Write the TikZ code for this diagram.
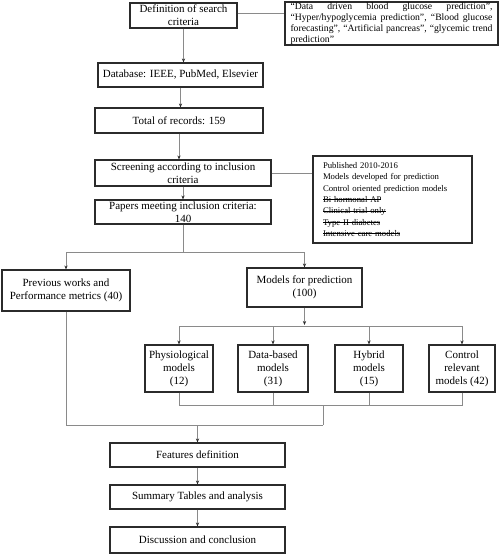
\documentclass[tikz,border=0pt]{standalone}
\usepackage{fontspec}
\setmainfont{Liberation Serif}
\usetikzlibrary{arrows.meta,calc}
\newcommand\mystrike[1]{\setbox0\hbox{#1}\leavevmode\rlap{\rule[0.3em]{\wd0}{0.5pt}}\box0}
\definecolor{boxline}{HTML}{2B2B2B}
\definecolor{conn}{HTML}{8A8A8A}
\begin{document}
\begin{tikzpicture}[x=1pt,y=-1pt,
  box/.style={draw=boxline,line width=1.1pt,rectangle,inner sep=1pt,align=center,
    font=\fontsize{11}{13}\selectfont},
  note/.style={draw=boxline,line width=1.1pt,rectangle,inner xsep=2pt,inner ysep=0pt},
  link/.style={draw=conn,line width=0.8pt},
  arr/.style={link,-{Stealth[length=4pt,width=3.2pt,color=boxline]}}]
\useasboundingbox (0,0) rectangle (500,554);
\fill[white] (0,0) rectangle (500,554);
% nodes
\node[box,minimum width=107pt,minimum height=25pt] (def) at (183.5,15.5) {Definition of search\\criteria};
\node[note,minimum width=213pt,minimum height=43pt,text width=202pt,align=justify,
  font=\fontsize{9.7}{11}\selectfont] (kw) at (391.5,23.5)
  {\hyphenpenalty10000 ``Data driven blood glucose prediction'',\linebreak ``Hyper/hypoglycemia prediction'', ``Blood glucose\linebreak forecasting'', ``Artificial pancreas'', ``glycemic trend\linebreak prediction''};
\node[box,minimum width=165pt,minimum height=24pt] (db) at (180.5,75) {Database: IEEE, PubMed, Elsevier};
\node[box,minimum width=168pt,minimum height=25pt] (tot) at (179,120.5) {Total of records: 159};
\node[box,minimum width=176pt,minimum height=26pt] (scr) at (183,173) {Screening according to inclusion\\criteria};
\node[box,minimum width=176pt,minimum height=24pt] (pap) at (183,212) {Papers meeting inclusion criteria:\\140};
\node[note,minimum width=159pt,minimum height=87pt,text width=139pt,align=left,
  font=\fontsize{8.7}{11.3}\selectfont] (crit) at (392.5,199.5)
  {Published 2010-2016\\Models developed for prediction\\Control oriented prediction models\\\mystrike{Bi hormonal AP}\\\mystrike{Clinical trial only}\\\mystrike{Type II diabetes}\\\mystrike{Intensive care models}};
\node[box,minimum width=128pt,minimum height=41pt] (prev) at (66,290.5) {Previous works and\\Performance metrics (40)};
\node[box,minimum width=115pt,minimum height=39pt] (mod) at (304.5,287.5) {Models for prediction\\(100)};
\node[box,minimum width=68pt,minimum height=47pt] (phys) at (179,368.5) {Physiological\\models\\(12)};
\node[box,minimum width=70pt,minimum height=47pt] (data) at (273,368.5) {Data-based\\models\\(31)};
\node[box,minimum width=68pt,minimum height=47pt] (hyb) at (369,368.5) {Hybrid\\models\\(15)};
\node[box,minimum width=66pt,minimum height=47pt] (ctrl) at (462,368.5) {Control\\relevant\\models (42)};
\node[box,minimum width=175pt,minimum height=24pt] (feat) at (197.5,455) {Features definition};
\node[box,minimum width=175pt,minimum height=24pt] (sum) at (197.5,497) {Summary Tables and analysis};
\node[box,minimum width=175pt,minimum height=26pt] (disc) at (197.5,540) {Discussion and conclusion};
% junctions
\coordinate (j1) at (183,252);
\coordinate (j2) at (304.5,326);
\coordinate (j3) at (323,405);
\coordinate (j4) at (323,425);
% connectors
\draw[link] ([yshift=2.5pt]def.east) -- ([yshift=2.5pt]def.east -| kw.west);
\draw[arr] (def.south) -- (def.south |- db.north);
\draw[arr] (db.south) -- (db.south |- tot.north);
\draw[arr] (tot.south) -- (tot.south |- scr.north);
\draw[arr] (scr.south) -- (scr.south |- pap.north);
\draw[link] (scr.east) -- (scr.east -| crit.west);
\draw[link] (pap.south) -- (j1);
\draw[arr] (j1) -| (prev.north);
\draw[arr] (j1) -| (mod.north);
\draw[arr] (mod.south) -- ([yshift=1pt]j2);
\draw[arr] (j2) -| (phys.north);
\draw[arr] (j2) -| (ctrl.north);
\draw[arr] (j2 -| data.north) -- (data.north);
\draw[arr] (j2 -| hyb.north) -- (hyb.north);
\draw[link] (phys.south) |- (j3);
\draw[link] (ctrl.south) |- (j3);
\draw[link] (data.south) -- (data.south |- j3);
\draw[link] (hyb.south) -- (hyb.south |- j3);
\draw[link] (j3) -- (j4);
\draw[link] (prev.south) |- (j4);
\draw[arr] (feat.north |- j4) -- (feat.north);
\draw[arr] (feat.south) -- (sum.north);
\draw[arr] (sum.south) -- (disc.north);
\end{tikzpicture}
\end{document}
